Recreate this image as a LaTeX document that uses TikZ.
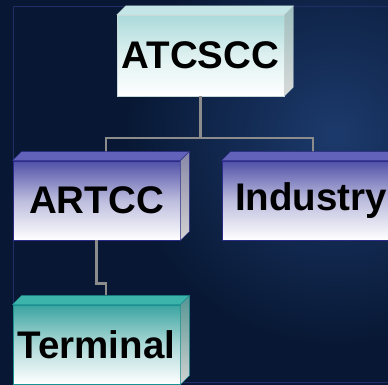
\documentclass[tikz,border=0pt]{standalone}
\usepackage{fontspec}
\setmainfont{Liberation Sans}
\usepackage{xcolor}
\usepackage{tikz}
\usetikzlibrary{calc,positioning}

\definecolor{bgdark}{HTML}{081834}
\definecolor{bglight}{HTML}{1C3A6C}
\definecolor{framecol}{HTML}{1F2F66}
\definecolor{linkgray}{HTML}{8C8C8C}
\definecolor{cyanfront}{HTML}{ACDADA}
\definecolor{cyantop}{HTML}{C4E6E6}
\definecolor{cyanedge}{HTML}{C8DADA}
\definecolor{bluefront}{HTML}{5050A8}
\definecolor{bluetop}{HTML}{6262BA}
\definecolor{blueedge}{HTML}{2C2C88}
\definecolor{tealfront}{HTML}{3AA4A0}
\definecolor{tealtop}{HTML}{3CB4AC}
\definecolor{tealedge}{HTML}{1A9090}

% top and right faces of a box node
\newcommand{\cubefaces}[3]{%
  \filldraw[#2] (#1.north west) -- ++(9,9) -- ($(#1.north east)+(9,9)$) -- (#1.north east) -- cycle;
  \filldraw[#3] (#1.north east) -- ++(9,9) -- ($(#1.south east)+(9,9)$) -- (#1.south east) -- cycle;
}

\begin{document}
\begin{tikzpicture}[x=1pt, y=1pt,
                    link/.style={line width=2.6pt, linkgray},
                    box/.style={rectangle, inner sep=0pt, minimum width=167, minimum height=79,
                                font=\bfseries\fontsize{38.5}{42}\selectfont, text=black},
                    cyanbox/.style={box, draw=cyanedge, top color=cyanfront, bottom color=white, middle color=cyanfront!40!white},
                    bluebox/.style={box, draw=blueedge, line width=0.8pt, top color=bluefront, bottom color=white, middle color=bluefront!38!white},
                    tealbox/.style={box, draw=tealedge, line width=0.8pt, top color=tealfront, bottom color=white, middle color=tealfront!42!white},
                   ]

\useasboundingbox (0,0) rectangle (388,385);

% background
\begin{scope}
\clip (0,0) rectangle (388,385);
\fill[bgdark] (0,0) rectangle (388,385);
\shade[inner color=bglight, outer color=bgdark] (335,250) circle (210);
\draw[framecol, line width=1pt] (13,2) rectangle (420,378);
\end{scope}

\node[cyanbox] (atcscc) at (200.5,329.5) [minimum height=81] {ATCSCC};
\node[bluebox] (artcc) at (96.5,184.5) {ARTCC};
\node[bluebox] (industry) at (311,184.5) [minimum width=178] {Industry};
\node[tealbox] (terminal) at (96.5,40.5) {Terminal};

\coordinate (artccin) at (106,233);
\coordinate (industryin) at (313,233);
\coordinate (terminalin) at (106,90);

\draw[link] (atcscc.south) -- ++(0,-42) coordinate (bus);
\draw[link] (artccin) |- (bus) -| (industryin);
\draw[link] (artcc.south) -- ++(0,-43) -| (terminalin);

\cubefaces{atcscc}{cyanedge, fill=cyantop}{cyanedge, top color=cyanfront!70!gray, bottom color=gray!30}
\cubefaces{artcc}{blueedge, fill=bluetop}{blueedge, top color=bluefront!45!gray!80, bottom color=gray!35}
\cubefaces{industry}{blueedge, fill=bluetop}{blueedge, top color=bluefront!45!gray!80, bottom color=gray!35}
\cubefaces{terminal}{tealedge, fill=tealtop}{tealedge, top color=tealfront!60!gray, bottom color=gray!35}

\end{tikzpicture}
\end{document}
